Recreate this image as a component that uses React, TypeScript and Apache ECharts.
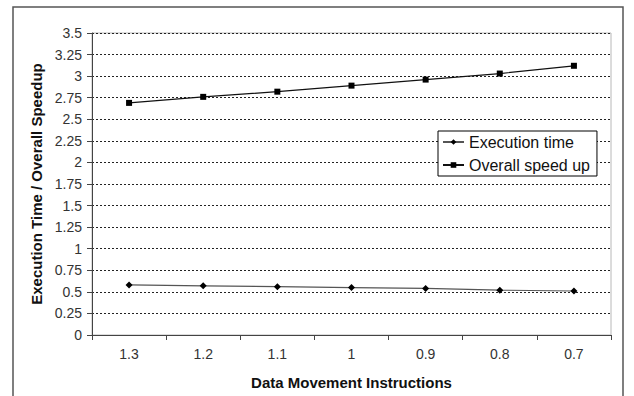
import React, { useEffect, useRef } from "react";
import * as echarts from "echarts";

const categories = ["1.3", "1.2", "1.1", "1", "0.9", "0.8", "0.7"];
const executionTime = [0.58, 0.57, 0.56, 0.55, 0.54, 0.52, 0.51];
const overallSpeedup = [2.69, 2.76, 2.82, 2.89, 2.96, 3.03, 3.12];

const FONT = "'Liberation Sans', Arial, sans-serif";

export default function App() {
  const ref = useRef<HTMLDivElement>(null);
  useEffect(() => {
    if (!ref.current) return;
    const chart = echarts.init(ref.current, undefined, { renderer: "svg" });
    chart.setOption({
      animation: false,
      backgroundColor: "#ffffff",
      textStyle: { fontFamily: FONT },
      graphic: [
        {
          type: "rect",
          shape: { x: 13, y: 7, width: 610, height: 400 },
          style: { fill: "none", stroke: "#555555", lineWidth: 1.5 },
          silent: true,
        },
      ],
      grid: {
        left: 92,
        top: 33,
        right: 23,
        bottom: 61,
        show: true,
        borderColor: "#b8b8b8",
        borderWidth: 1,
      },
      legend: {
        left: 438,
        top: 131,
        orient: "vertical",
        backgroundColor: "#ffffff",
        borderColor: "#000000",
        borderWidth: 1,
        borderRadius: 0,
        padding: [3, 7, 3, 4],
        itemWidth: 21,
        itemHeight: 7,
        itemGap: 7,
        textStyle: { fontFamily: FONT, fontSize: 16, color: "#111", lineHeight: 16 },
        data: ["Execution time", "Overall speed up"],
      },
      xAxis: {
        type: "category",
        data: categories,
        boundaryGap: true,
        name: "Data Movement Instructions",
        nameLocation: "middle",
        nameGap: 40,
        nameTextStyle: { fontFamily: FONT, fontSize: 15, fontWeight: "bold", color: "#111" },
        axisLine: { show: true, lineStyle: { color: "#444", width: 1 } },
        axisTick: { show: true, length: 5, alignWithLabel: false, lineStyle: { color: "#444" } },
        axisLabel: { fontFamily: FONT, fontSize: 14, color: "#333", margin: 12 },
        splitLine: { show: false },
      },
      yAxis: {
        type: "value",
        min: 0,
        max: 3.5,
        interval: 0.25,
        name: "Execution Time / Overall Speedup",
        nameLocation: "middle",
        nameGap: 47,
        nameTextStyle: { fontFamily: FONT, fontSize: 15, fontWeight: "bold", color: "#111" },
        axisLine: { show: true, lineStyle: { color: "#444", width: 1 } },
        axisTick: { show: true, length: 5, lineStyle: { color: "#444" } },
        axisLabel: { fontFamily: FONT, fontSize: 14, color: "#333", margin: 10 },
        splitLine: { show: true, lineStyle: { color: "#222", type: [2, 2], width: 1 } },
      },
      series: [
        {
          name: "Execution time",
          type: "line",
          data: executionTime,
          symbol: "diamond",
          symbolSize: 7,
          itemStyle: { color: "#000" },
          lineStyle: { color: "#555", width: 1.2 },
        },
        {
          name: "Overall speed up",
          type: "line",
          data: overallSpeedup,
          symbol: "rect",
          symbolSize: 6,
          itemStyle: { color: "#000" },
          lineStyle: { color: "#111", width: 1.2 },
        },
      ],
    });
    return () => chart.dispose();
  }, []);
  return (
    <div
      ref={ref}
      style={{ position: "absolute", left: 0, top: 0, width: 634, height: 396 }}
    />
  );
}
